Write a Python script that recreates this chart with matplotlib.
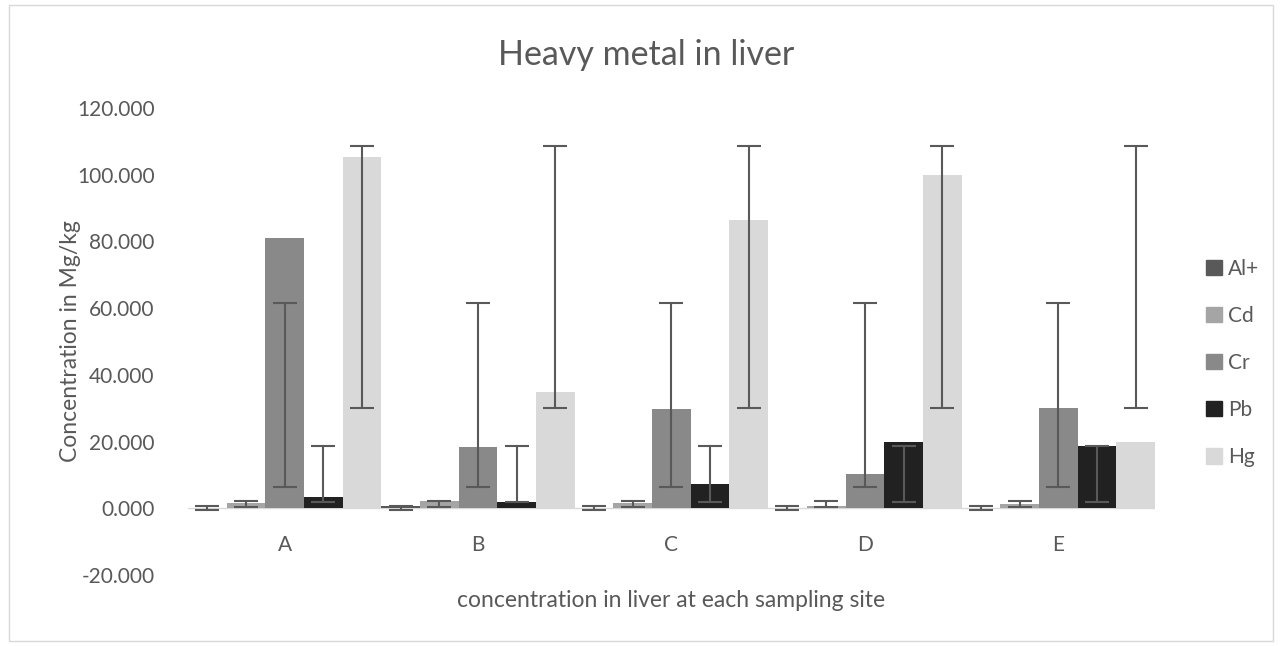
import numpy as np
import matplotlib.pyplot as plt
from matplotlib.patches import Rectangle, Patch

plt.rcParams['font.family'] = ['Lato', 'DejaVu Sans']

sites = ['A', 'B', 'C', 'D', 'E']
metals = ['Al+', 'Cd', 'Cr', 'Pb', 'Hg']
colors = ['#595959', '#a5a5a5', '#898989', '#212121', '#d9d9d9']

al = [0.2, 0.8, 0.2, 0.2, 0.2]
cd = [1.5, 2.3, 1.5, 0.6, 1.3]
cr = [81.0, 18.3, 29.8, 10.3, 30.1]
pb = [3.5, 1.8, 7.2, 19.9, 18.8]
hg = [105.4, 35.0, 86.3, 99.8, 19.9]

# error bar ranges (low, high) per metal, same at every site
err_low = [-0.5, 0.4, 6.5, 1.8, 30.1]
err_high = [0.8, 2.2, 61.5, 18.8, 108.6]

values = [al, cd, cr, pb, hg]

fig = plt.figure(figsize=(12.82, 6.46), dpi=100)
ax = fig.add_axes([0.1466, 0.1099, 0.7543, 0.7229])

text_col = '#595959'
x = np.arange(len(sites))
w = 0.2
for i, (name, vals, c) in enumerate(zip(metals, values, colors)):
    xs = x + (i - 2) * w
    ax.bar(xs, vals, width=w, color=c, label=name, zorder=2)
    mid = (err_low[i] + err_high[i]) / 2
    half = (err_high[i] - err_low[i]) / 2
    ax.errorbar(xs, [mid] * len(xs), yerr=half, fmt='none', ecolor='#595959',
                elinewidth=1.5, capsize=8.5, capthick=1.5, zorder=3)

ax.set_xlim(-0.5, 4.5)
ax.set_ylim(-20, 120)
ax.set_yticks(np.arange(-20, 121, 20))
ax.set_yticklabels([f'{v:.3f}' for v in np.arange(-20, 121, 20)])
ax.set_xticks(x)
ax.set_xticklabels(sites)
ax.axhline(0, color='#d9d9d9', lw=1, zorder=1)
for s in ax.spines.values():
    s.set_visible(False)
ax.tick_params(axis='both', length=0, colors=text_col, labelsize=15)
ax.tick_params(axis='y', pad=24)
ax.tick_params(axis='x', pad=-29)

ax.set_ylabel('Concentration in Mg/kg', color=text_col, fontsize=16.5, labelpad=-3)
ax.set_xlabel('concentration in liver at each sampling site', color=text_col, fontsize=16.5, labelpad=11)
fig.text(0.504, 0.915, 'Heavy metal in liver', ha='center', va='center', color=text_col, fontsize=24.5)

handles = [Patch(color=c) for c in colors]
fig.legend(handles, metals, loc='center left', bbox_to_anchor=(0.926, 0.438), frameon=False,
           handlelength=0.75, handleheight=0.75, handletextpad=0.3, labelspacing=1.3,
           fontsize=15, labelcolor=text_col)

fig.patches.append(Rectangle((0.007, 0.008), 0.986, 0.984, transform=fig.transFigure,
                             fill=False, edgecolor='#d9d9d9', lw=1))

fig.savefig('out.png', dpi=100)
